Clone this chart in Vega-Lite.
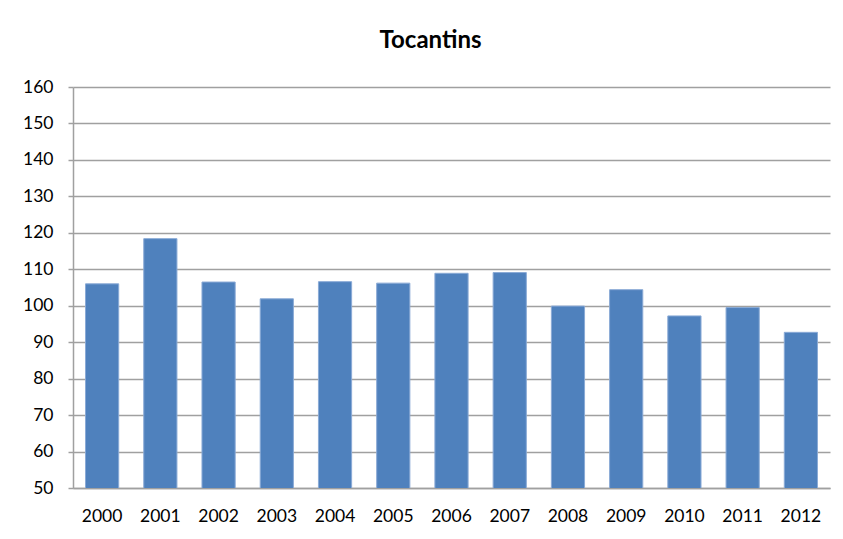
{
  "$schema": "https://vega.github.io/schema/vega-lite/v6.json",
  "width": 757,
  "height": 401,
  "autosize": "none",
  "padding": {"left": 73, "top": 87, "right": 13, "bottom": 51},
  "background": "white",
  "title": {
    "text": "Tocantins",
    "font": "Lato",
    "fontSize": 24,
    "fontWeight": "bold",
    "color": "black",
    "anchor": "middle",
    "dx": -21,
    "offset": 25
  },
  "data": {
    "values": [
      {"year": "2000", "value": 106.0},
      {"year": "2001", "value": 118.4},
      {"year": "2002", "value": 106.5},
      {"year": "2003", "value": 101.9},
      {"year": "2004", "value": 106.6},
      {"year": "2005", "value": 106.2},
      {"year": "2006", "value": 108.9},
      {"year": "2007", "value": 109.1},
      {"year": "2008", "value": 99.9},
      {"year": "2009", "value": 104.4},
      {"year": "2010", "value": 97.2},
      {"year": "2011", "value": 99.5},
      {"year": "2012", "value": 92.7}
    ]
  },
  "mark": {"type": "bar", "color": "#4F81BD", "stroke": "#8AAAD6", "strokeWidth": 1, "clip": true},
  "encoding": {
    "x": {
      "field": "year",
      "type": "ordinal",
      "scale": {"paddingInner": 0.43, "paddingOuter": 0.215},
      "axis": {
        "title": null,
        "labelAngle": 0,
        "labelFont": "Lato",
        "labelFontSize": 17.5,
        "labelColor": "black",
        "labelPadding": 19,
        "ticks": false,
        "domainColor": "#A0A0A0",
        "domainWidth": 1.5,
        "grid": false
      }
    },
    "y": {
      "field": "value",
      "type": "quantitative",
      "scale": {"domain": [50, 160], "zero": false, "nice": false},
      "axis": {
        "title": null,
        "values": [50, 60, 70, 80, 90, 100, 110, 120, 130, 140, 150, 160],
        "labelFont": "Lato",
        "labelFontSize": 17.5,
        "labelColor": "black",
        "labelPadding": 15,
        "tickSize": 5,
        "tickColor": "#A0A0A0",
        "tickWidth": 1.5,
        "domainColor": "#A0A0A0",
        "domainWidth": 1.5,
        "gridColor": "#A0A0A0",
        "gridWidth": 1.5,
        "gridOpacity": 1
      }
    }
  },
  "config": {"view": {"stroke": null}}
}
